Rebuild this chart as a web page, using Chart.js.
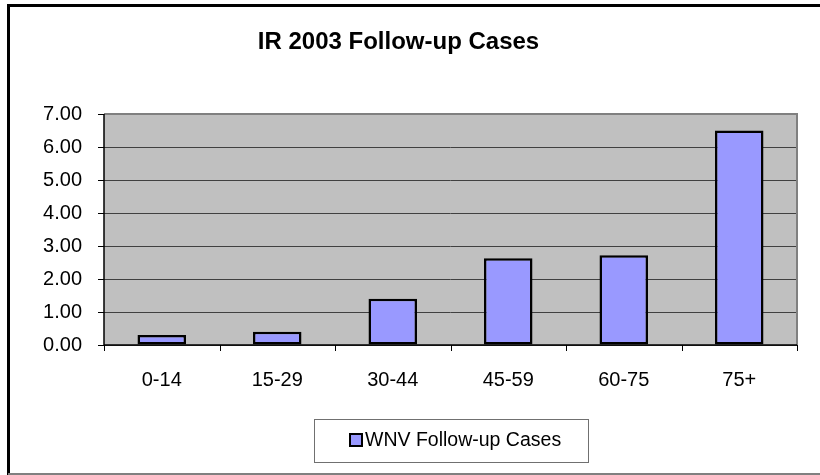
<!DOCTYPE html>
<html>
<head>
<meta charset="utf-8">
<script src="https://cdn.jsdelivr.net/npm/chart.js@4/dist/chart.umd.min.js"></script>
<style>
  html, body { margin: 0; padding: 0; background: #ffffff; }
  #wrap { position: relative; width: 820px; height: 475px; }
</style>
</head>
<body>
<div id="wrap"><canvas id="c" width="820" height="475"></canvas></div>
<script>
const chartTitle = 'IR 2003 Follow-up Cases';
const categories = ['0-14', '15-29', '30-44', '45-59', '60-75', '75+'];
const seriesName = 'WNV Follow-up Cases';
const seriesValues = [0.30, 0.40, 1.40, 2.63, 2.72, 6.50];
const yTicks = [0, 1, 2, 3, 4, 5, 6, 7];

const FONT = '"Liberation Sans", Arial, sans-serif';

const framePlugin = {
  id: 'frame',
  beforeDraw(chart) {
    const ctx = chart.ctx, a = chart.chartArea;
    ctx.save();
    ctx.fillStyle = '#ffffff';
    ctx.fillRect(0, 0, chart.width, chart.height);
    ctx.fillStyle = '#c0c0c0';
    ctx.fillRect(a.left, a.top, a.right - a.left, a.bottom - a.top);
    ctx.restore();
  },
  afterDatasetsDraw(chart) {
    const ctx = chart.ctx, a = chart.chartArea;
    const y = chart.scales.y;
    ctx.save();
    ctx.strokeStyle = '#808080';
    ctx.lineWidth = 2;
    ctx.beginPath();
    ctx.moveTo(a.left, a.top); ctx.lineTo(a.right, a.top); ctx.lineTo(a.right, a.bottom);
    ctx.stroke();
    ctx.strokeStyle = '#000000';
    ctx.lineWidth = 1.5;
    ctx.beginPath();
    ctx.moveTo(a.left, a.top); ctx.lineTo(a.left, a.bottom); ctx.lineTo(a.right, a.bottom);
    ctx.stroke();
    ctx.lineWidth = 1;
    ctx.beginPath();
    y.ticks.forEach((t) => {
      const py = Math.round(y.getPixelForValue(t.value)) + 0.5;
      ctx.moveTo(a.left - 6, py); ctx.lineTo(a.left, py);
    });
    for (let i = 0; i <= categories.length; i++) {
      const px = Math.round(a.left + (a.right - a.left) * i / categories.length) + 0.5;
      ctx.moveTo(px, a.bottom); ctx.lineTo(px, a.bottom + 6);
    }
    ctx.stroke();
    ctx.restore();
  },
  afterDraw(chart) {
    const ctx = chart.ctx;
    ctx.save();
    ctx.strokeStyle = '#000000';
    ctx.lineWidth = 3;
    ctx.beginPath();
    ctx.moveTo(8.5, chart.height); ctx.lineTo(8.5, 5.5); ctx.lineTo(chart.width, 5.5);
    ctx.stroke();
    ctx.strokeStyle = '#808080';
    ctx.lineWidth = 2;
    ctx.beginPath();
    ctx.moveTo(8, 474); ctx.lineTo(chart.width, 474);
    ctx.stroke();
    const ds = chart.data.datasets[0];
    const bx = 314.5, by = 419.5, bw = 274, bh = 43;
    ctx.fillStyle = '#ffffff';
    ctx.fillRect(bx, by, bw, bh);
    ctx.strokeStyle = '#707070';
    ctx.lineWidth = 1;
    ctx.strokeRect(bx, by, bw, bh);
    ctx.fillStyle = ds.backgroundColor;
    ctx.fillRect(350, 434, 12, 12);
    ctx.strokeStyle = '#000000';
    ctx.lineWidth = 2;
    ctx.strokeRect(350, 434, 12, 12);
    ctx.fillStyle = '#000000';
    ctx.font = '19.5px ' + FONT;
    ctx.textBaseline = 'middle';
    ctx.textAlign = 'left';
    ctx.fillText(ds.label, 365, 441);
    ctx.restore();
  }
};

new Chart(document.getElementById('c'), {
  type: 'bar',
  data: {
    labels: categories,
    datasets: [{
      label: seriesName,
      data: seriesValues,
      backgroundColor: '#9999ff',
      borderColor: '#000000',
      borderWidth: 2.5,
      borderSkipped: false,
      categoryPercentage: 1.0,
      barPercentage: 0.42
    }]
  },
  options: {
    responsive: false,
    animation: false,
    devicePixelRatio: 1,
    layout: { padding: { left: 0, right: 23, top: 0, bottom: 0 } },
    plugins: {
      legend: { display: false },
      tooltip: { enabled: false },
      title: {
        display: true,
        text: chartTitle,
        color: '#000000',
        font: { family: FONT, size: 24, weight: 'bold' },
        padding: { top: 28, bottom: 57.2 }
      }
    },
    scales: {
      x: {
        offset: true,
        grid: { display: false, drawTicks: false },
        border: { display: false },
        ticks: { color: '#000000', font: { family: FONT, size: 20 }, padding: 23, maxRotation: 0 },
        afterFit(s) { s.height = 130; }
      },
      y: {
        min: 0,
        max: 7,
        afterBuildTicks(s) { s.ticks = yTicks.map(v => ({ value: v })); },
        grid: { color: '#404040', lineWidth: 1, drawTicks: false },
        border: { display: false },
        ticks: {
          color: '#000000',
          font: { family: FONT, size: 20 },
          padding: 22,
          callback: (v) => Number(v).toFixed(2)
        },
        afterFit(s) { s.width = 104; }
      }
    }
  },
  plugins: [framePlugin]
});
</script>
</body>
</html>
